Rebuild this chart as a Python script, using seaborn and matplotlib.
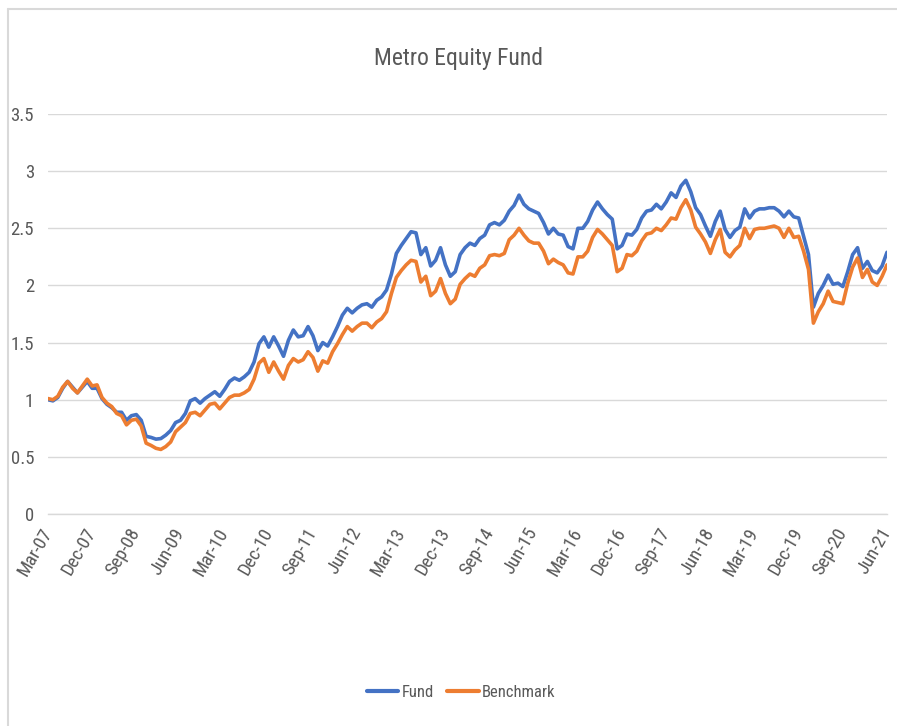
import matplotlib
matplotlib.use('Agg')
import numpy as np
import pandas as pd
from matplotlib import pyplot as plt
from matplotlib import font_manager
from matplotlib.lines import Line2D
import seaborn as sns

# monthly series, Mar-07 .. Jun-21 (172 months)
months = pd.date_range('2007-03-01', '2021-06-01', freq='MS')

fund = [
    1.00, 0.99, 1.02, 1.10, 1.16, 1.11, 1.06, 1.11, 1.16, 1.10,
    1.10, 1.01, 0.96, 0.93, 0.89, 0.89, 0.82, 0.86, 0.87, 0.82,
    0.68, 0.67, 0.655, 0.66, 0.69, 0.73, 0.80, 0.82, 0.88, 0.99,
    1.01, 0.97, 1.01, 1.04, 1.07, 1.03, 1.09, 1.16, 1.19, 1.17,
    1.20, 1.24, 1.33, 1.49, 1.55, 1.46, 1.55, 1.47, 1.38, 1.52,
    1.61, 1.55, 1.56, 1.64, 1.56, 1.43, 1.50, 1.47, 1.55, 1.64,
    1.74, 1.80, 1.76, 1.80, 1.83, 1.84, 1.81, 1.87, 1.90, 1.96,
    2.10, 2.28, 2.35, 2.41, 2.47, 2.46, 2.27, 2.33, 2.17, 2.22,
    2.33, 2.18, 2.08, 2.12, 2.27, 2.33, 2.37, 2.35, 2.41, 2.44,
    2.53, 2.55, 2.53, 2.57, 2.65, 2.70, 2.79, 2.71, 2.67, 2.65,
    2.63, 2.55, 2.45, 2.50, 2.45, 2.44, 2.34, 2.32, 2.50, 2.50,
    2.56, 2.66, 2.73, 2.67, 2.62, 2.58, 2.32, 2.35, 2.45, 2.44,
    2.49, 2.59, 2.65, 2.66, 2.71, 2.67, 2.73, 2.81, 2.77, 2.87,
    2.92, 2.82, 2.68, 2.62, 2.52, 2.43, 2.56, 2.65, 2.49, 2.42,
    2.48, 2.51, 2.67, 2.59, 2.65, 2.67, 2.67, 2.68, 2.68, 2.65,
    2.60, 2.65, 2.60, 2.59, 2.43, 2.27, 1.81, 1.93, 2.00, 2.09,
    2.01, 2.02, 1.99, 2.12, 2.27, 2.33, 2.15, 2.21, 2.13, 2.11,
    2.17, 2.29,
]

benchmark = [
    1.01, 1.00, 1.03, 1.11, 1.16, 1.10, 1.06, 1.12, 1.18, 1.12,
    1.13, 1.02, 0.97, 0.94, 0.88, 0.86, 0.78, 0.82, 0.83, 0.77,
    0.62, 0.60, 0.575, 0.565, 0.59, 0.63, 0.72, 0.76, 0.80, 0.88,
    0.89, 0.86, 0.91, 0.96, 0.97, 0.92, 0.97, 1.02, 1.04, 1.04,
    1.06, 1.09, 1.18, 1.32, 1.36, 1.24, 1.33, 1.25, 1.18, 1.30,
    1.36, 1.33, 1.35, 1.42, 1.37, 1.25, 1.34, 1.32, 1.42, 1.49,
    1.57, 1.64, 1.60, 1.64, 1.67, 1.67, 1.63, 1.68, 1.71, 1.77,
    1.93, 2.07, 2.13, 2.18, 2.22, 2.21, 2.03, 2.08, 1.91, 1.95,
    2.06, 1.93, 1.84, 1.88, 2.01, 2.06, 2.10, 2.08, 2.15, 2.18,
    2.26, 2.27, 2.26, 2.28, 2.40, 2.44, 2.50, 2.44, 2.39, 2.37,
    2.37, 2.30, 2.19, 2.23, 2.20, 2.18, 2.11, 2.10, 2.25, 2.25,
    2.30, 2.42, 2.49, 2.45, 2.40, 2.35, 2.12, 2.15, 2.27, 2.26,
    2.30, 2.39, 2.45, 2.46, 2.50, 2.48, 2.53, 2.59, 2.58, 2.68,
    2.75, 2.66, 2.51, 2.45, 2.38, 2.28, 2.40, 2.49, 2.29, 2.25,
    2.31, 2.35, 2.50, 2.41, 2.49, 2.50, 2.50, 2.51, 2.52, 2.50,
    2.42, 2.50, 2.42, 2.43, 2.30, 2.14, 1.67, 1.77, 1.84, 1.95,
    1.86, 1.85, 1.84, 2.02, 2.16, 2.24, 2.07, 2.14, 2.03, 2.00,
    2.08, 2.18,
]

tick_labels = ['Mar-07', 'Dec-07', 'Sep-08', 'Jun-09', 'Mar-10', 'Dec-10',
               'Sep-11', 'Jun-12', 'Mar-13', 'Dec-13', 'Sep-14', 'Jun-15',
               'Mar-16', 'Dec-16', 'Sep-17', 'Jun-18', 'Mar-19', 'Dec-19',
               'Sep-20', 'Jun-21']

df = pd.DataFrame({'month': np.arange(len(months)), 'Fund': fund, 'Benchmark': benchmark})
data = df.melt(id_vars='month', var_name='series', value_name='value')

sns.set_style('white')

# Calibri-like look: a narrow face if one is installed, Lato otherwise
installed = {f.name for f in font_manager.fontManager.ttflist}
narrow = [n for n in ['Liberation Sans Narrow', 'Roboto Condensed', 'Open Sans Condensed',
                      'DejaVu Sans Condensed', 'Noto Sans Condensed'] if n in installed]
plt.rcParams['font.family'] = narrow[:1] + ['Lato', 'DejaVu Sans']
fs = 13.5 if narrow else 12.5

grey = '#595959'
grid = '#D9D9D9'

fig = plt.figure(figsize=(8.97, 7.26), dpi=100)
ax = fig.add_axes([48 / 897, 212 / 726, 839 / 897, 400 / 726])

sns.lineplot(data=data, x='month', y='value', hue='series',
             palette={'Fund': '#4472C4', 'Benchmark': '#ED7D31'},
             linewidth=2.6, ax=ax)

ax.set_xlim(0, len(months) - 1)
ax.set_ylim(0, 3.5)
ax.tick_params(axis='both', length=0, colors=grey, labelsize=fs)
ax.tick_params(axis='y', pad=10)
ax.tick_params(axis='x', pad=11)
ax.set_yticks(np.arange(0, 3.51, 0.5))
ax.set_yticklabels(['0', '0.5', '1', '1.5', '2', '2.5', '3', '3.5'])
ax.set_xticks(np.arange(0, len(months), 9))
ax.set_xticklabels(tick_labels)
for lab in ax.get_xticklabels():
    lab.set_rotation(60)
    lab.set_rotation_mode('anchor')
    lab.set_ha('right')
    lab.set_va('center')
ax.grid(axis='y', color=grid, linewidth=1)
ax.set_xlabel('')
ax.set_ylabel('')
for side in ['top', 'right', 'left']:
    ax.spines[side].set_visible(False)
ax.spines['bottom'].set_color(grid)
ax.spines['bottom'].set_linewidth(1)

handles, labels = ax.get_legend_handles_labels()
ax.get_legend().remove()
leg = fig.legend(handles, labels, loc='center', bbox_to_anchor=(0.514, 0.046),
                 ncol=2, frameon=False, handlelength=1.9, handletextpad=0.2,
                 columnspacing=0.8, fontsize=fs - 1.5, labelcolor=grey)
for line in leg.get_lines():
    line.set_linewidth(3)

fig.text(458 / 897, 1 - 58 / 726, 'Metro Equity Fund', ha='center', va='center',
         fontsize=17 if narrow else 16, color=grey)

# chart frame (left + top edges visible in the screenshot)
fig.add_artist(Line2D([8 / 897, 8 / 897], [0, 1 - 9 / 726], color=grid, lw=1.5))
fig.add_artist(Line2D([8 / 897, 1], [1 - 9 / 726, 1 - 9 / 726], color=grid, lw=1.5))

fig.savefig('out.png', dpi=100)
